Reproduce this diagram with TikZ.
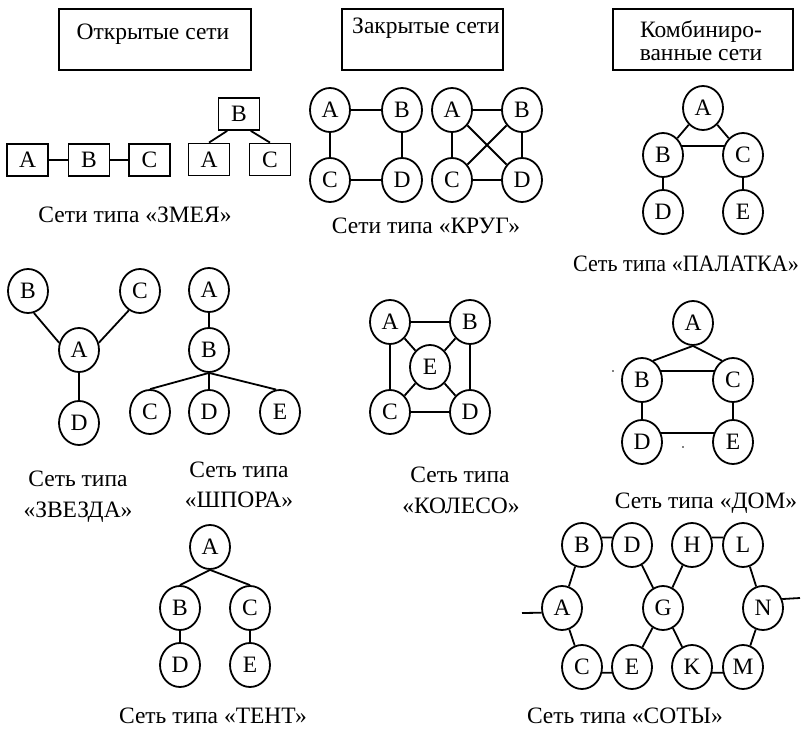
\documentclass[tikz,border=0pt]{standalone}
\usepackage{fontspec}
\setmainfont{Liberation Serif}
\usetikzlibrary{shapes.geometric}
\begin{document}
\begin{tikzpicture}[x=1pt,y=-1pt,
  every node/.style={font=\fontsize{23.5}{26}\selectfont},
  vtx/.style={draw, ellipse, line width=1.8pt, minimum width=40pt, minimum height=44pt, inner sep=0pt},
  sq/.style={draw, rectangle, line width=1.8pt, minimum width=41pt, minimum height=32pt, inner sep=0pt},
  hdr/.style={draw, rectangle, line width=1.8pt, anchor=north west, inner sep=0pt},
  ln/.style={line width=1.8pt},
  capt/.style={anchor=base, inner sep=0pt},
  speck/.style={fill, circle, inner sep=0pt, minimum size=1.8pt}
]
\useasboundingbox (0,0) rectangle (801,731);

% ---- headers ----
\node[hdr, minimum width=192pt, minimum height=61pt] (hOpen) at (58,8) {};
\node[capt] (tOpen) at (153,39) {Открытые сети};
\node[hdr, minimum width=161pt, minimum height=61pt] (hClosed) at (341,8) {};
\node[capt] (tClosed) at (426,33) {Закрытые сети};
\node[hdr, minimum width=180pt, minimum height=61pt] (hComb) at (612,8) {};
\node[capt] (tComb1) at (701,37) {Комбиниро-};
\node[capt] (tComb2) at (701,60) {ванные сети};

% ---- snake ----
\node[sq] (snA) at (27.5,160) {A};
\node[sq] (snB) at (89,160) {B};
\node[sq] (snC) at (149.5,160) {C};
\draw[ln] (snA) -- (snB) (snB) -- (snC);
\node[sq] (trB) at (239,114) {B\hspace{6pt}};
\node[sq] (trA) at (209,159.5) {A\hspace{6pt}};
\node[sq] (trC) at (270,159.5) {C\hspace{4pt}};
\draw[ln] (trB.235) -- (trA.north) (trB.-55) -- (trC.north);
\node[capt] (cSnake) at (135,222) {Сети типа «ЗМЕЯ»};

% ---- ring ----
\node[vtx] (k1A) at (330,110) {A};
\node[vtx] (k1B) at (402,110) {B};
\node[vtx] (k1C) at (330,180) {C};
\node[vtx] (k1D) at (402,180) {D};
\draw[ln] (k1A) -- (k1B) -- (k1D) -- (k1C) -- (k1A);
\node[vtx] (k2A) at (452,110) {A};
\node[vtx] (k2B) at (522,110) {B};
\node[vtx] (k2C) at (452,180) {C};
\node[vtx] (k2D) at (522,180) {D};
\draw[ln] (k2A) -- (k2B) -- (k2D) -- (k2C) -- (k2A);
\draw[ln] (k2A) -- (k2D) (k2B) -- (k2C);
\node[capt] (cRing) at (426,233) {Сети типа «КРУГ»};

% ---- tent (palatka) ----
\node[vtx] (pA) at (703,108) {A};
\node[vtx] (pB) at (663,155) {B};
\node[vtx] (pC) at (743,155) {C};
\node[vtx] (pD) at (663,212) {D};
\node[vtx] (pE) at (743,212) {E};
\draw[ln] (pA) -- (pB) (pA) -- (pC) (pB.25) -- (pC.155) (pB) -- (pD) (pC) -- (pE);
\node[capt] (cPal) at (686,271) {\scalebox{0.94}[1]{Сеть типа «ПАЛАТКА»}};

% ---- star ----
\node[vtx] (stA) at (79,350) {A};
\node[vtx] (stB) at (28,291) {B};
\node[vtx] (stC) at (140,291) {C};
\node[vtx] (stD) at (79,423) {D};
\draw[ln] (stB.285) -- (stA.160) (stC.240) -- (stA.20) (stA) -- (stD);
\node[capt] (cStar1) at (78,486) {Сеть типа};
\node[capt] (cStar2) at (78,517) {«ЗВЕЗДА»};

% ---- spur ----
\node[vtx] (spA) at (209,290) {A};
\node[vtx] (spB) at (209,350) {B};
\node[vtx] (spC) at (150,412) {C};
\node[vtx] (spD) at (209,412) {D};
\node[vtx] (spE) at (280,412) {E};
\draw[ln] (spA) -- (spB) (spB.south) -- (spC.north) (spB.south) -- (spD.north) (spB.south) -- (spE.100);
\node[capt] (cSpur1) at (239,477) {Сеть типа};
\node[capt] (cSpur2) at (239,507) {«ШПОРА»};

% ---- wheel ----
\node[vtx] (wA) at (390,322) {A};
\node[vtx] (wB) at (470,322) {B};
\node[vtx] (wC) at (390,412) {C};
\node[vtx] (wD) at (470,412) {D};
\node[vtx] (wE) at (430,367) {E};
\draw[ln] (wA) -- (wB) -- (wD) -- (wC) -- (wA);
\draw[ln] (wA) -- (wE) (wB) -- (wE) (wC) -- (wE) (wD) -- (wE);
\node[capt] (cWheel1) at (460,482) {Сеть типа};
\node[capt] (cWheel2) at (461,513) {«КОЛЕСО»};

% ---- house ----
\node[vtx] (dA) at (693,323) {A};
\node[vtx] (dB) at (642,380) {B};
\node[vtx] (dC) at (733,380) {C};
\node[vtx] (dD) at (642,442) {D};
\node[vtx] (dE) at (733,442) {E};
\draw[ln] (dA.south) -- (dB.60) (dA.south) -- (dC.120) (dB.25) -- (dC.155)
  (dB) -- (dD) (dC) -- (dE) (dD.25) -- (dE.155);
\node[speck] (dot1) at (613,371) {};
\node[speck] (dot2) at (683,447) {};
\node[capt] (cHouse) at (706,508) {Сеть типа «ДОМ»};

% ---- tent ----
\node[vtx] (tA) at (210,547) {A};
\node[vtx] (tB) at (180,608) {B};
\node[vtx] (tC) at (250,608) {C};
\node[vtx] (tD) at (180,665) {D};
\node[vtx] (tE) at (250,665) {E};
\draw[ln] (tA.south) -- (tB.north) (tA.south) -- (tC.north) (tB) -- (tD) (tC) -- (tE);
\node[capt] (cTent) at (213,723) {Сеть типа «ТЕНТ»};

% ---- honeycomb ----
\node[vtx] (hB) at (582,545) {B};
\node[vtx] (hD) at (632,545) {D};
\node[vtx] (hH) at (692,545) {H};
\node[vtx] (hL) at (743,545) {L};
\node[vtx] (hA) at (562,608) {A};
\node[vtx] (hG) at (663,608) {G};
\node[vtx] (hN) at (763,608) {N};
\node[vtx] (hC) at (582,667) {C};
\node[vtx] (hE) at (632,667) {E};
\node[vtx] (hK) at (692,667) {K};
\node[vtx] (hM) at (743,667) {M};
\coordinate (hIn) at (522,613);
\coordinate (hOut) at (800,598);
\draw[ln] (hB.21) -- (hD.159) (hH.21) -- (hL.159)
  (hC.-16) -- (hE.196) (hK.-16) -- (hM.196)
  (hA) -- (hB) (hA) -- (hC) (hD) -- (hG) (hH) -- (hG) (hG) -- (hE) (hG) -- (hK)
  (hL) -- (hN) (hN) -- (hM)
  (hIn) -- (hA.193) (hN.25) -- (hOut);
\node[capt] (cHoney) at (625,723) {Сеть типа «СОТЫ»};
\end{tikzpicture}
\end{document}
